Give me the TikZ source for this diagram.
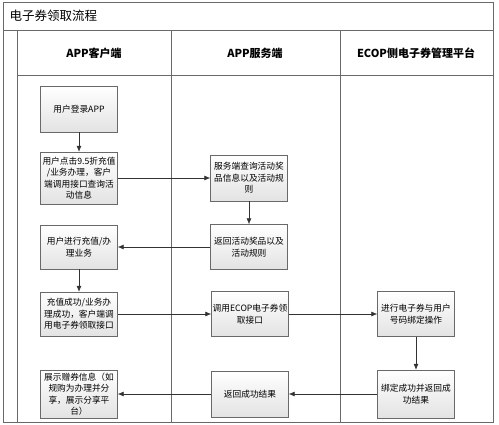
\documentclass[tikz,border=0pt]{standalone}
\usepackage{fontspec}
\newfontfamily\cjk{Noto Sans CJK SC}
\usetikzlibrary{arrows.meta}
\definecolor{lineC}{RGB}{50,50,50}
\definecolor{frameC}{RGB}{105,105,105}

\begin{document}
\begin{tikzpicture}[
  x=1pt, y=-1pt,
  every node/.style={font=\cjk, text=black},
  stepbox/.style={draw=frameC, top color=white, bottom color=gray!22,
    minimum width=77pt, minimum height=46pt, inner sep=1pt, align=center,
    font=\cjk\fontsize{8.7}{11.5}\selectfont},
  lanehead/.style={font=\cjk\bfseries\fontsize{11}{13}\selectfont},
  >={Latex[length=6pt,width=5pt]}
]
  \useasboundingbox (0,0) rectangle (499,424);

  % pool and lanes
  \draw[frameC, semithick] (3,2) rectangle (493,422);
  \draw[frameC, semithick] (3,30) -- (493,30);
  \draw[frameC, semithick] (17,30) -- (17,422);
  \draw[frameC, semithick] (17,75) -- (493,75);
  \draw[frameC, semithick] (171,30) -- (171,422);
  \draw[frameC, semithick] (340,30) -- (340,422);

  \node[anchor=west, font=\cjk\fontsize{12.5}{14}\selectfont] (title) at (6,16) {电子券领取流程};
  \node[lanehead] (h1) at (94,53)  {APP客户端};
  \node[lanehead] (h2) at (255,53) {APP服务端};
  \node[lanehead] (h3) at (416,53) {ECOP侧电子券管理平台};

  % steps
  \node[stepbox] (1)  at (79,109) {用户登录APP};
  \node[stepbox, minimum height=52pt] (2) at (79,178) {用户点击9.5折充值\\/业务办理，客户\\端调用接口查询活\\动信息};
  \node[stepbox, minimum height=44pt] (3) at (79,247) {用户进行充值/办\\理业务};
  \node[stepbox, minimum height=44pt] (4) at (79,314) {充值成功/业务办\\理成功，客户端调\\用电子券领取接口};
  \node[stepbox, minimum height=48pt] (5) at (79,394) {展示赠券信息（如\\规购为办理并分\\享，展示分享平\\台）};

  \node[stepbox] (6) at (249,178) {服务端查询活动奖\\品信息以及活动规\\则};
  \node[stepbox, minimum height=45pt] (7) at (249,247) {返回活动奖品以及\\活动规则};
  \node[stepbox, minimum height=45pt] (8) at (250,314) {调用ECOP电子券领\\取接口};
  \node[stepbox] (9) at (250,394) {返回成功结果};

  \node[stepbox, minimum height=45pt] (10) at (416,314) {进行电子券与用户\\号码绑定操作};
  \node[stepbox, minimum height=48pt] (11) at (416,394) {绑定成功并返回成\\功结果};

  % flow
  \draw[->, semithick, lineC] (1) -- (2);
  \draw[->, semithick, lineC] (2) -- (6);
  \draw[->, semithick, lineC] (6) -- (7);
  \draw[->, semithick, lineC] (7) -- (3);
  \draw[->, semithick, lineC] (3) -- (4);
  \draw[->, semithick, lineC] (4) -- (8);
  \draw[->, semithick, lineC] (8) -- (10);
  \draw[->, semithick, lineC] (10) -- (11);
  \draw[->, semithick, lineC] (11) -- (9);
  \draw[->, semithick, lineC] (9) -- (5);
\end{tikzpicture}
\end{document}
